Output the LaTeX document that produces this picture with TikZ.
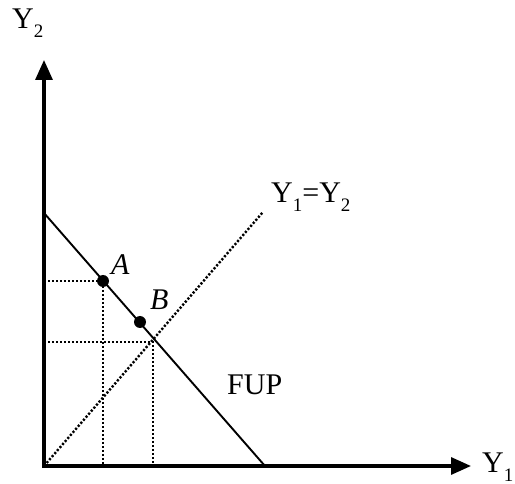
\documentclass[tikz,border=0pt]{standalone}
\usepackage{fontspec}
\setmainfont{Liberation Serif}
\usetikzlibrary{arrows.meta}
\newcommand{\mysub}[1]{\raisebox{-9pt}{\fontsize{19}{21}\selectfont #1}}
\tikzset{
  axis/.style={line width=3.2pt, -{Triangle[length=20pt,width=17pt]}},
  fup/.style={line width=1.9pt},
  dots/.style={line width=2.4pt, dash pattern=on 2.2pt off 1.8pt},
  pt/.style={circle, fill=black, inner sep=0pt, minimum size=12pt},
  lbl/.style={inner sep=0pt, anchor=base west, font=\fontsize{30}{34}\selectfont},
}
\begin{document}
\begin{tikzpicture}[x=1pt,y=-1pt]
\useasboundingbox (0,0) rectangle (515,484);
\coordinate (O) at (44,466);
\coordinate (ytip) at (44,60);
\coordinate (xtip) at (471,466);
\coordinate (Ftop) at (44,213);
\coordinate (Fbot) at (265,466);
\coordinate (Dend) at (263,212);
\coordinate (Ay) at (44,281);
\coordinate (Ax) at (103,466);
\coordinate (Ey) at (44,342);
\coordinate (E) at (153,342);
\coordinate (Ex) at (153,466);
% dotted guides
\draw[dots] (O) -- (Dend);
\draw[dots] (Ay) -- (103,281) -- (Ax);
\draw[dots] (Ey) -- (E) -- (Ex);
% FUP
\draw[fup] (Ftop) -- (Fbot);
% axes
\draw[axis] (44,467.6) -- (ytip);
\draw[axis] (42.4,466) -- (xtip);
% points
\node[pt] (A) at (103,281) {};
\node[pt] (B) at (140,322) {};
% labels
\node[lbl] (Y2) at (12,29) {Y\mysub{2}};
\node[lbl] (Y1) at (482,472) {Y\mysub{1}};
\node[lbl] (diag) at (271,203) {Y\mysub{1}=Y\mysub{2}};
\node[lbl] (fupl) at (227,395) {FUP};
\node[lbl] (Al) at (111,275) {\itshape A};
\node[lbl] (Bl) at (150,310) {\itshape B};
\end{tikzpicture}
\end{document}
